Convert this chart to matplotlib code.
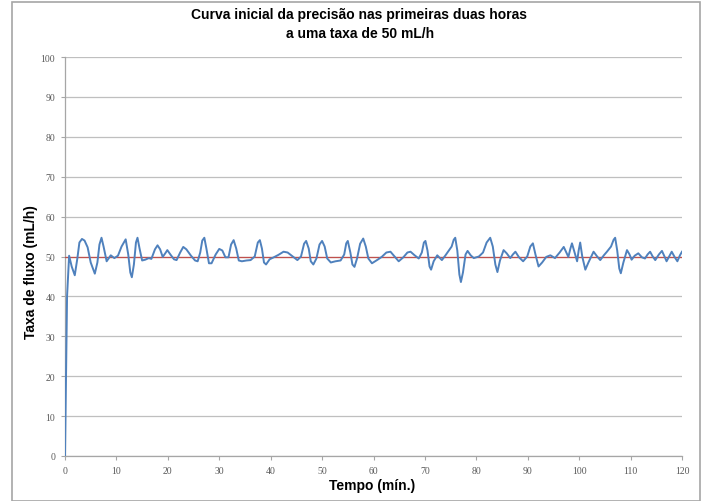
import matplotlib
matplotlib.use("Agg")
import matplotlib.pyplot as plt
from matplotlib.patches import Rectangle

# === DATA ===
tempo = [0, 0.4, 0.8, 1.3, 1.9, 2.4, 2.8, 3.3, 3.8, 4.4, 5.0, 5.8, 6.3, 6.7,
         7.1, 7.5, 8.1, 8.9, 9.6, 10.3, 11.0, 11.8, 12.3, 12.7, 13.0, 13.4,
         13.8, 14.1, 14.5, 15.0, 15.6, 16.3, 16.8, 17.5, 18.0, 18.5, 19.0,
         19.5, 19.9, 20.5, 21.2, 21.7, 22.4, 23.0, 23.6, 24.5, 25.3, 25.8,
         26.3, 26.7, 27.1, 27.5, 28.0, 28.5, 29.3, 30.0, 30.6, 31.2, 31.8,
         32.3, 32.8, 33.3, 33.8, 34.4, 35.3, 36.1, 36.9, 37.5, 37.9, 38.3,
         38.7, 39.1, 39.8, 40.6, 41.5, 42.5, 43.3, 44.3, 45.2, 45.9, 46.5,
         46.9, 47.4, 47.8, 48.3, 48.9, 49.5, 50.0, 50.5, 51.0, 51.7, 52.6,
         53.6, 54.3, 54.7, 55.0, 55.5, 55.9, 56.3, 56.8, 57.4, 58.0, 58.5,
         59.0, 59.7, 60.8, 61.6, 62.5, 63.3, 64.1, 64.9, 65.8, 66.6, 67.2,
         68.0, 68.8, 69.4, 69.8, 70.1, 70.5, 70.9, 71.2, 71.7, 72.4, 73.3,
         74.0, 74.6, 75.2, 75.6, 75.9, 76.3, 76.7, 77.0, 77.4, 77.9, 78.3,
         78.9, 79.5, 80.5, 81.3, 82.0, 82.7, 83.2, 83.7, 84.1, 84.6, 85.3,
         85.9, 86.6, 87.1, 87.6, 88.3, 89.1, 89.9, 90.5, 91.0, 91.5, 92.1,
         92.8, 93.6, 94.4, 95.3, 96.2, 97.0, 97.5, 97.9, 98.3, 98.6, 99.1,
         99.6, 99.9, 100.2, 100.6, 101.2, 101.8, 102.8, 103.5, 104.1, 104.8,
         105.4, 106.2, 106.7, 107.0, 107.4, 107.8, 108.1, 108.6, 109.3,
         109.8, 110.2, 110.8, 111.5, 112.2, 112.8, 113.3, 113.8, 114.3,
         114.8, 115.5, 116.1, 116.6, 117.0, 117.5, 118.0, 118.6, 119.1,
         119.6, 120.0]
fluxo = [0, 40.0, 50.2, 47.5, 45.3, 49.5, 53.5, 54.4, 54.0, 52.3, 48.5, 45.7,
         48.5, 53.0, 54.7, 52.5, 48.8, 50.3, 49.6, 50.2, 52.5, 54.3, 50.5,
         46.0, 44.8, 48.0, 53.5, 54.7, 52.0, 49.0, 49.2, 49.6, 49.4, 51.8,
         52.8, 51.8, 49.9, 50.8, 51.6, 50.5, 49.3, 49.1, 51.0, 52.4, 51.8,
         50.2, 49.0, 48.8, 51.0, 54.0, 54.7, 52.0, 48.3, 48.3, 50.5, 51.9,
         51.5, 49.8, 49.8, 53.0, 54.1, 52.0, 49.0, 48.8, 49.0, 49.1, 50.0,
         53.5, 54.1, 52.0, 48.5, 48.0, 49.3, 49.8, 50.4, 51.2, 51.0, 50.0,
         49.1, 50.0, 53.2, 53.9, 52.0, 48.8, 48.0, 49.5, 53.0, 53.9, 52.5,
         49.5, 48.5, 48.8, 49.0, 50.5, 53.3, 53.9, 51.0, 48.0, 47.4, 49.5,
         53.2, 54.5, 52.5, 49.5, 48.3, 49.2, 49.9, 51.0, 51.2, 50.0, 48.8,
         49.8, 51.0, 51.2, 50.3, 49.5, 51.0, 53.5, 53.9, 51.5, 47.5, 46.7,
         48.8, 50.3, 49.1, 50.3, 51.4, 52.5, 54.2, 54.7, 51.5, 45.5, 43.6,
         46.0, 50.5, 51.4, 50.3, 49.6, 50.0, 51.0, 53.5, 54.7, 52.5, 48.0,
         46.1, 49.0, 51.6, 50.8, 49.6, 50.5, 51.2, 49.8, 48.8, 50.0, 52.5,
         53.3, 50.5, 47.5, 48.5, 49.9, 50.3, 49.6, 51.0, 52.4, 51.0, 49.9,
         52.0, 53.3, 51.0, 48.8, 51.5, 53.5, 50.0, 46.7, 48.5, 51.2, 50.0,
         49.1, 50.3, 51.2, 52.5, 54.2, 54.7, 51.5, 47.0, 45.8, 48.5, 51.6,
         50.5, 49.2, 50.2, 50.8, 49.8, 49.5, 50.5, 51.2, 50.0, 49.1, 50.5,
         51.4, 50.0, 48.8, 50.0, 51.2, 49.8, 48.8, 50.3, 51.2]
alvo_tempo = [0, 120]
alvo_fluxo = [50, 50]

x_ticks = list(range(0, 121, 10))
y_ticks = list(range(0, 101, 10))

# === PLOT ===
fig = plt.figure(figsize=(7.07, 5.02), dpi=100)
ax = fig.add_axes([65 / 707, 1 - 457 / 502, (682 - 65) / 707, (457 - 58) / 502])

ax.plot(alvo_tempo, alvo_fluxo, color="#C0504D", linewidth=0.9, zorder=3)
ax.plot(tempo, fluxo, color="#4F81BD", linewidth=1.4, zorder=4,
        solid_joinstyle="round")

ax.set_xlim(0, 120)
ax.set_ylim(0, 100)
ax.set_xticks(x_ticks)
ax.set_yticks(y_ticks)
ax.tick_params(axis="both", labelsize=7, colors="#A6A6A6", labelcolor="#595959",
               length=3, width=0.8, direction="out", pad=4)
for lab in ax.get_xticklabels() + ax.get_yticklabels():
    lab.set_family("Liberation Serif")

ax.grid(axis="y", color="#BFBFBF", linewidth=0.9)
ax.set_axisbelow(True)
for side in ["top", "right"]:
    ax.spines[side].set_visible(False)
for side in ["left", "bottom"]:
    ax.spines[side].set_color("#A6A6A6")
    ax.spines[side].set_linewidth(0.9)

ax.set_xlabel("Tempo (mín.)", fontsize=10, fontweight="bold",
              family="Liberation Sans")
ax.set_ylabel("Taxa de fluxo (mL/h)", fontsize=10, fontweight="bold",
              family="Liberation Sans")
ax.xaxis.set_label_coords(0.497, (457 - 486) / 399, transform=ax.transAxes)
ax.yaxis.set_label_coords((31 - 65) / 617, (457 - 272) / 399, transform=ax.transAxes)
ax.xaxis.label.set_va("center")
ax.yaxis.label.set_va("center")

fig.text(359 / 707, 1 - 15 / 502, "Curva inicial da precisão nas primeiras duas horas",
         ha="center", va="center", fontsize=10, fontweight="bold", family="Liberation Sans")
fig.text(360 / 707, 1 - 34 / 502, "a uma taxa de 50 mL/h",
         ha="center", va="center", fontsize=10, fontweight="bold", family="Liberation Sans")

# chart border
fig.patches.append(Rectangle((12 / 707, 0.0), (700 - 12) / 707, 1 - 3 / 502,
                             transform=fig.transFigure, fill=False,
                             edgecolor="#A6A6A6", linewidth=1.2))

fig.savefig("out.png", dpi=100)
